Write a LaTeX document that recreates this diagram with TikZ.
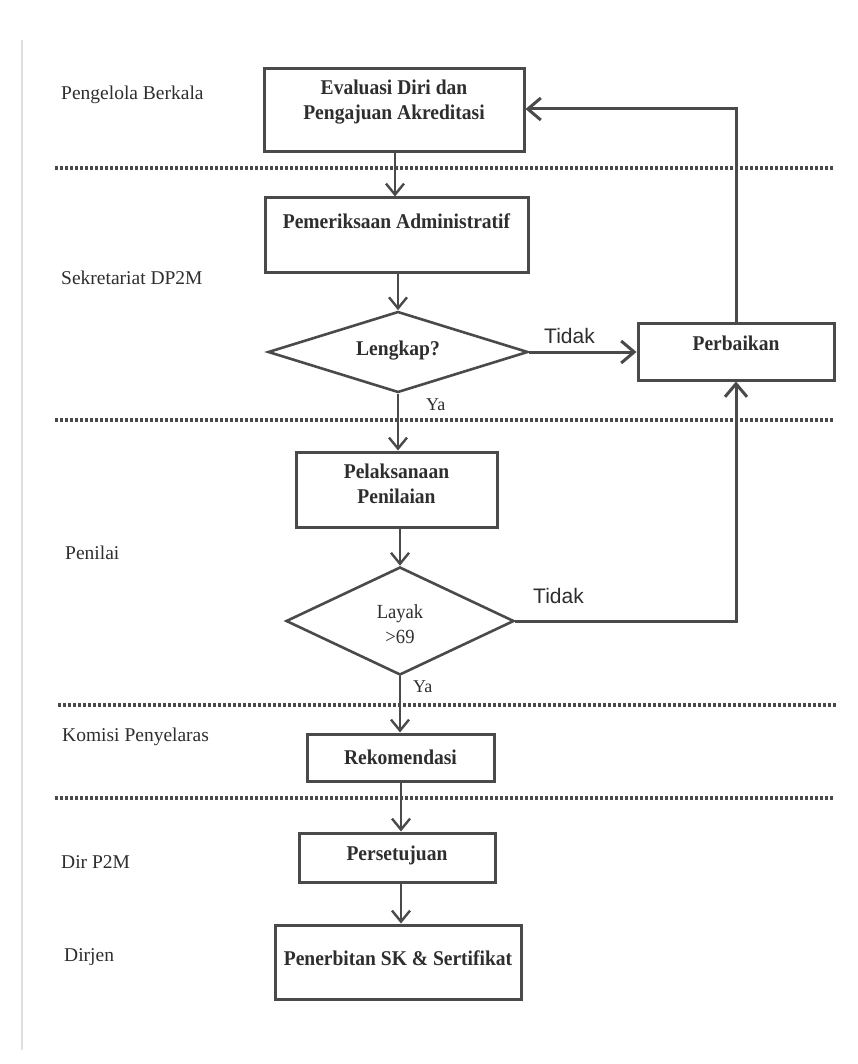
\documentclass[tikz,border=0pt]{standalone}
\usepackage{fontspec}
\setmainfont{Liberation Serif}
\newfontfamily\boxfont[FakeStretch=0.93]{Liberation Serif}
\newfontfamily\tidakfont{Liberation Sans}
\usetikzlibrary{arrows.meta,shapes.geometric}
\definecolor{ink}{HTML}{4A4A4A}
\definecolor{txtc}{HTML}{2E2E2E}
\begin{document}
\begin{tikzpicture}[x=1pt,y=-1pt,
  stepbox/.style={draw=ink,line width=3pt,rectangle,inner sep=0pt},
  decision/.style={draw=ink,line width=2.6pt,diamond,inner sep=0pt},
  boxtext/.style={text=txtc,font=\boxfont\fontsize{21}{25}\selectfont\bfseries,align=center,inner sep=0pt},
  lanelabel/.style={text=txtc,font=\fontsize{19.5}{22}\selectfont,anchor=west,inner sep=0pt},
  answer/.style={text=txtc,font=\fontsize{18}{20}\selectfont,anchor=west,inner sep=0pt},
  nolabel/.style={text=txtc,font=\tidakfont\fontsize{21}{24}\selectfont,anchor=west,inner sep=0pt},
  flow/.style={draw=ink,line width=2.4pt,-{Straight Barb[length=11pt,width=18pt,line width=2.4pt]}},
  backflow/.style={draw=ink,line width=3pt,-{Straight Barb[length=13pt,width=22pt,line width=3pt]}},
  lane/.style={draw=ink,line width=3.2pt,dash pattern=on 3pt off 2pt}]
\useasboundingbox[fill=white] (0,0) rectangle (857,1064);
% page edge
\draw[gray!25,line width=1.2pt] (22,40) -- (22,1050);

% swimlane separators
\coordinate (l1a) at (55,168);  \coordinate (l1b) at (834,168);
\coordinate (l2a) at (55,420);  \coordinate (l2b) at (834,420);
\coordinate (l3a) at (58,705);  \coordinate (l3b) at (836,705);
\coordinate (l4a) at (55,798);  \coordinate (l4b) at (834,798);
\draw[lane] (l1a) -- (l1b);
\draw[lane] (l2a) -- (l2b);
\draw[lane] (l3a) -- (l3b);
\draw[lane] (l4a) -- (l4b);

% lane names
\node[lanelabel] (lnA) at (61,95)  {Pengelola Berkala};
\node[lanelabel] (lnB) at (61,278) {Sekretariat DP2M};
\node[lanelabel] (lnC) at (65,553) {Penilai};
\node[lanelabel] (lnD) at (62,737) {Komisi Penyelaras};
\node[lanelabel] (lnE) at (61,862) {Dir P2M};
\node[lanelabel] (lnF) at (64,957) {Dirjen};

% process boxes
\node[stepbox,minimum width=260,minimum height=83] (eval) at (394,110.5) {};
\node[boxtext] (evalT) at (394,102) {Evaluasi Diri dan\\Pengajuan Akreditasi};

\node[stepbox,minimum width=263,minimum height=75] (pem) at (396.5,235.5) {};
\node[boxtext] (pemT) at (396.5,221) {Pemeriksaan Administratif};

\node[decision,minimum width=260,minimum height=81] (lengkap) at (398,352) {};
\node[boxtext] (lengkapT) at (398,351) {Lengkap?};

\node[stepbox,minimum width=196,minimum height=57] (perb) at (736,351.5) {};
\node[boxtext] (perbT) at (736,343) {Perbaikan};

\node[stepbox,minimum width=201,minimum height=75] (pel) at (396.5,489.5) {};
\node[boxtext] (pelT) at (396.5,484) {Pelaksanaan\\Penilaian};

\node[decision,minimum width=228,minimum height=108] (layak) at (400,621) {};
\node[boxtext,font=\boxfont\fontsize{20}{25}\selectfont] (layakT) at (400,624) {Layak\\>69};

\node[stepbox,minimum width=187,minimum height=47] (rek) at (400.5,757.5) {};
\node[boxtext] (rekT) at (400.5,757) {Rekomendasi};

\node[stepbox,minimum width=196,minimum height=49] (pers) at (397,857.5) {};
\node[boxtext] (persT) at (397,855) {Persetujuan};

\node[stepbox,minimum width=246,minimum height=74] (pen) at (398,962) {};
\node[boxtext] (penT) at (398,958) {Penerbitan SK \& Sertifikat};

% main flow
\draw[flow] (eval.south -| 395,0) -- (pem.north -| 395,0);
\draw[flow] (pem.south -| 398,0) -- (lengkap.north);
\draw[flow] (lengkap.south) -- (pel.north -| lengkap.south);
\draw[flow] (pel.south -| 400,0) -- (layak.north);
\draw[flow] (layak.south) -- (rek.north -| layak.south);
\draw[flow] (rek.south -| 401,0) -- (pers.north -| 401,0);
\draw[flow] (pers.south -| 401,0) -- (pen.north -| 401,0);

% branches
\draw[backflow] (lengkap.east) -- (perb.west |- lengkap.east);
\draw[backflow] (layak.east) -- (layak.east -| perb.south) -- (perb.south);
\coordinate (evalIn) at (eval.east |- 0,109);
\draw[backflow] (perb.north) -- (perb.north |- evalIn) -- (evalIn);

% answers
\node[nolabel] (no1) at (544,336) {Tidak};
\node[nolabel] (no2) at (533,596) {Tidak};
\node[answer] (yes1) at (426,405) {Ya};
\node[answer] (yes2) at (413,687) {Ya};
\end{tikzpicture}
\end{document}
